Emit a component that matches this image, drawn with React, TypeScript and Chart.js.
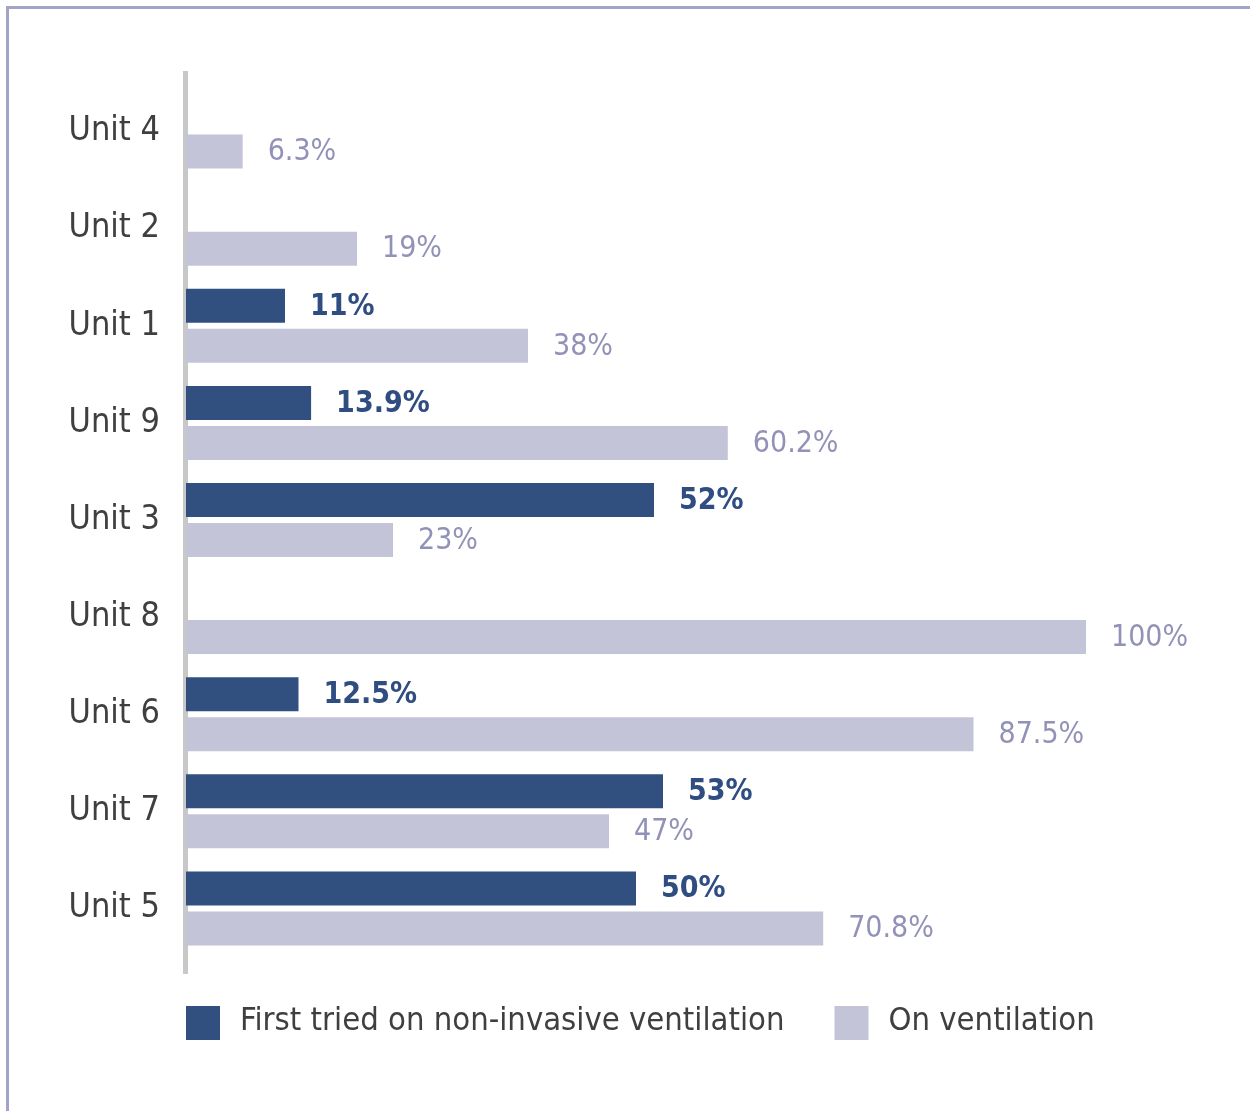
import React, { useEffect, useRef } from "react";
import { Chart, registerables } from "chart.js";

Chart.register(...registerables);

const categories = ["Unit 4", "Unit 2", "Unit 1", "Unit 9", "Unit 3", "Unit 8", "Unit 6", "Unit 7", "Unit 5"];
const firstTriedValues: (number | null)[] = [null, null, 11, 13.9, 52, null, 12.5, 53, 50];
const onVentilationValues: (number | null)[] = [6.3, 19, 38, 60.2, 23, 100, 87.5, 47, 70.8];
const seriesNames = ["First tried on non-invasive ventilation", "On ventilation"];

const FONT = "'Liberation Sans Narrow', 'DejaVu Sans Condensed', 'Open Sans', sans-serif";
const DARK = "#31507f";
const LIGHT = "#c4c4d8";
const DARK_LABEL = "#2f4d80";
const LIGHT_LABEL = "#9292b8";
const TEXT = "#3f3f3f";

const axisLinePlugin = {
  id: "axisLine",
  beforeDatasetsDraw(chart: any) {
    const { ctx, chartArea } = chart;
    ctx.save();
    ctx.fillStyle = "#c8c8c8";
    ctx.fillRect(chartArea.left - 3, chartArea.top - 12, 5, chartArea.bottom - chartArea.top + 29);
    ctx.restore();
  },
};

const valueLabelPlugin = {
  id: "valueLabels",
  afterDatasetsDraw(chart: any) {
    const { ctx } = chart;
    ctx.save();
    ctx.textBaseline = "middle";
    ctx.textAlign = "left";
    chart.data.datasets.forEach((ds: any, di: number) => {
      const meta = chart.getDatasetMeta(di);
      meta.data.forEach((bar: any, i: number) => {
        const v = ds.data[i];
        if (v === null || v === undefined) return;
        ctx.font = di === 0 ? `bold 30px ${FONT}` : `30px ${FONT}`;
        ctx.fillStyle = di === 0 ? DARK_LABEL : LIGHT_LABEL;
        ctx.fillText(`${v}%`, bar.x + 25, bar.y + 1);
      });
    });
    ctx.restore();
  },
};

const customLegendPlugin = {
  id: "customLegend",
  afterDraw(chart: any) {
    const { ctx, chartArea } = chart;
    ctx.save();
    ctx.font = `32.5px ${FONT}`;
    ctx.textBaseline = "middle";
    ctx.textAlign = "left";
    let x = chartArea.left;
    const y = 1006;
    chart.data.datasets.forEach((ds: any) => {
      ctx.fillStyle = ds.backgroundColor;
      ctx.fillRect(x, y, 34, 34);
      ctx.fillStyle = TEXT;
      const tx = x + 54;
      ctx.fillText(ds.label, tx, y + 16);
      x = tx + ctx.measureText(ds.label).width + 50;
    });
    ctx.restore();
  },
};

export default function App() {
  const canvasRef = useRef<HTMLCanvasElement | null>(null);

  useEffect(() => {
    if (!canvasRef.current) return;
    const chart = new Chart(canvasRef.current, {
      type: "bar",
      data: {
        labels: categories,
        datasets: [
          {
            label: seriesNames[0],
            data: firstTriedValues,
            backgroundColor: DARK,
            barPercentage: 0.85,
            categoryPercentage: 0.824,
          },
          {
            label: seriesNames[1],
            data: onVentilationValues,
            backgroundColor: LIGHT,
            barPercentage: 0.85,
            categoryPercentage: 0.824,
          },
        ],
      },
      options: {
        indexAxis: "y",
        responsive: false,
        animation: false,
        layout: { padding: { left: 0, right: 164, top: 83, bottom: 154 } },
        plugins: {
          legend: { display: false },
          tooltip: { enabled: false },
        },
        scales: {
          x: { display: false, min: 0, max: 100 },
          y: {
            afterFit(scale: any) {
              scale.width = 186;
            },
            grid: { display: false, drawTicks: false },
            border: { display: false },
            ticks: {
              padding: 26,
              color: TEXT,
              font: { family: FONT, size: 34 },
            },
          },
        },
      } as any,
      plugins: [axisLinePlugin, valueLabelPlugin, customLegendPlugin],
    });
    return () => chart.destroy();
  }, []);

  return (
    <div style={{ position: "fixed", left: 0, top: 0, width: 1250, height: 1111, background: "#fff", overflow: "hidden" }}>
      <div
        style={{
          position: "absolute",
          left: 6,
          top: 6,
          width: 1250,
          height: 1111,
          borderTop: "3px solid #a3a3c8",
          borderLeft: "3px solid #a3a3c8",
        }}
      />
      <canvas ref={canvasRef} width={1250} height={1111} style={{ position: "absolute", left: 0, top: 0, width: 1250, height: 1111 }} />
    </div>
  );
}
